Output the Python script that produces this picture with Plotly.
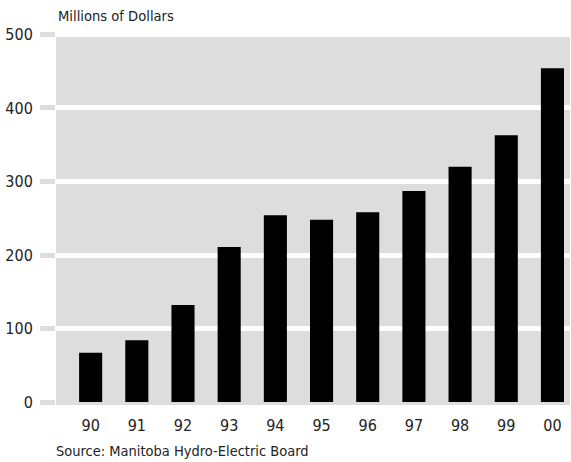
import plotly.graph_objects as go

years = ["90", "91", "92", "93", "94", "95", "96", "97", "98", "99", "00"]
values = [67, 84, 132, 211, 254, 248, 258, 287, 320, 363, 454]
y_ticks = [0, 100, 200, 300, 400, 500]

title_text = "Millions of Dollars"
source_text = "Source: Manitoba Hydro-Electric Board"

FONT = "DejaVu Sans Condensed, Liberation Sans Narrow, sans-serif"
TXT = "#222222"
GRAY = "#dddddd"

xpos = list(range(len(years)))

fig = go.Figure(
    go.Bar(
        x=xpos,
        y=values,
        width=0.5,
        marker=dict(color="#000000", line=dict(width=0)),
        hoverinfo="skip",
    )
)

fig.update_layout(
    width=571,
    height=462,
    margin=dict(l=56, r=1, t=33, b=58),
    paper_bgcolor="#ffffff",
    plot_bgcolor=GRAY,
    showlegend=False,
    font=dict(family=FONT, color=TXT, size=16),
    xaxis=dict(
        tickmode="array",
        tickvals=xpos,
        ticktext=years,
        range=[-0.75, 10.38],
        showgrid=False,
        zeroline=False,
        showline=False,
        ticks="",
        ticklabelstandoff=10,
        tickfont=dict(size=16, family=FONT, color=TXT),
        fixedrange=True,
    ),
    yaxis=dict(
        tickmode="array",
        tickvals=y_ticks,
        range=[-2.7, 502],
        showgrid=True,
        gridcolor="#ffffff",
        gridwidth=5,
        zeroline=True,
        zerolinecolor=GRAY,
        zerolinewidth=5,
        showline=False,
        ticks="outside",
        ticklen=15,
        tickwidth=5,
        tickcolor=GRAY,
        ticklabelstandoff=4,
        tickfont=dict(size=16, family=FONT, color=TXT),
        fixedrange=True,
    ),
    annotations=[
        dict(
            text=title_text,
            xref="paper", yref="paper",
            x=0, y=1,
            xanchor="left", yanchor="bottom",
            yshift=7,
            showarrow=False,
            font=dict(size=14.6, family=FONT, color=TXT),
        ),
        dict(
            text=source_text,
            xref="paper", yref="paper",
            x=0, y=0,
            xanchor="left", yanchor="top",
            xshift=-2,
            yshift=-37,
            showarrow=False,
            font=dict(size=14.5, family=FONT, color=TXT),
        ),
    ],
)

fig.write_html(
    "out.html",
    config={"displayModeBar": False},
    post_script="document.body.style.margin='0';document.body.style.padding='0';document.body.style.overflow='hidden';",
)
